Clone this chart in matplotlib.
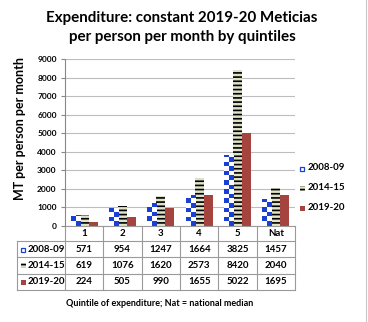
import numpy as np
import matplotlib
matplotlib.use("Agg")
import matplotlib.pyplot as plt
from matplotlib.colors import ListedColormap
from matplotlib.patches import Rectangle
from matplotlib.transforms import blended_transform_factory

plt.rcParams['font.family'] = ['Lato', 'DejaVu Sans']
plt.rcParams['hatch.linewidth'] = 1.2

categories = ['1', '2', '3', '4', '5', 'Nat']
series_names = ['2008-09', '2014-15', '2019-20']
v2008 = [571, 954, 1247, 1664, 3825, 1457]
v2014 = [619, 1076, 1620, 2573, 8420, 2040]
v2019 = [224, 505, 990, 1655, 5022, 1695]
yticks = [0, 1000, 2000, 3000, 4000, 5000, 6000, 7000, 8000, 9000]

BLUE = '#1a3fd6'
BEIGE = '#dfe2c6'
RED = '#a5443f'
GRID = '#bdbdbd'

W, H = 368, 322
fig = plt.figure(figsize=(W / 100, H / 100), dpi=100)
ax = fig.add_axes([65 / W, 1 - 226 / H, 230 / W, 167 / H])

x = np.arange(len(categories))
w = 0.235
b1 = ax.bar(x - w, v2008, w, color='white', edgecolor='none', zorder=2)
b2 = ax.bar(x, v2014, w, color=BEIGE, edgecolor='black', linewidth=0, hatch='----', zorder=2)
b3 = ax.bar(x + w, v2019, w, color=RED, edgecolor='none', zorder=2)

# checkerboard fill for 2008-09 bars
cell_h = 9000 / 167 * 4.6
cmap = ListedColormap(['white', BLUE])
for p in b1:
    x0 = p.get_x()
    x1 = x0 + p.get_width()
    h = p.get_height()
    nr = int(np.ceil(h / cell_h))
    arr = (np.add.outer(np.arange(nr), np.arange(2)) % 2)[::-1]
    im = ax.imshow(arr, extent=(x0, x1, 0, nr * cell_h), cmap=cmap,
                   interpolation='nearest', aspect='auto', zorder=2, vmin=0, vmax=1)
    im.set_clip_path(p)
ax.set_xlim(-0.5, len(categories) - 0.5)
ax.set_ylim(0, 9000)
ax.set_aspect('auto')

ax.set_yticks(yticks)
ax.set_yticklabels([str(t) for t in yticks], fontsize=6, fontweight='bold')
ax.tick_params(axis='y', length=3, color='#888888', pad=3)
ax.set_xticks([])
ax.grid(axis='y', color=GRID, linewidth=0.8, zorder=0)
ax.set_axisbelow(True)
for s in ['top', 'right', 'bottom']:
    ax.spines[s].set_visible(False)
ax.spines['left'].set_color('#888888')
ax.spines['left'].set_linewidth(0.8)

# titles and labels
fig.text(182 / W, 1 - 18 / H, 'Expenditure: constant 2019-20 Meticias',
         ha='center', va='center', fontsize=10.9, fontweight='bold')
fig.text(182 / W, 1 - 37 / H, 'per person per month by quintiles',
         ha='center', va='center', fontsize=10.9, fontweight='bold')
fig.text(20 / W, 1 - 128 / H, 'MT per person per month', rotation=90,
         ha='center', va='center', fontsize=9, fontweight='bold')

# data table below the axes
tr = blended_transform_factory(ax.transData, fig.transFigure)
def fy(py):
    return 1 - py / H
LC = '#9a9a9a'
n = len(categories)
left_x = -0.5 - 48 / (230 / n)
row_lines = [241, 257, 274, 290]
ax.plot([-0.5, n - 0.5], [fy(226), fy(226)], transform=tr, color=LC, lw=0.8, clip_on=False)
for yy in row_lines:
    ax.plot([left_x, n - 0.5], [fy(yy), fy(yy)], transform=tr,
            color=LC, lw=0.8, clip_on=False)
for k in range(n + 1):
    ax.plot([k - 0.5, k - 0.5], [fy(226), fy(290)], transform=tr, color=LC, lw=0.8, clip_on=False)
ax.plot([left_x, left_x], [fy(241), fy(290)], transform=tr, color=LC, lw=0.8, clip_on=False)

for i, c in enumerate(categories):
    ax.text(i, fy(233.5), c, transform=tr, ha='center', va='center',
            fontsize=7, fontweight='bold')
rows = [v2008, v2014, v2019]
for r, (name, vals) in enumerate(zip(series_names, rows)):
    yc = (row_lines[r] + row_lines[r + 1]) / 2
    for i, v in enumerate(vals):
        ax.text(i, fy(yc), str(v), transform=tr, ha='center', va='center',
                fontsize=7, fontweight='bold')
    fig.text(28 / W, fy(yc), name, ha='left', va='center', fontsize=7, fontweight='bold')

# row-label / legend markers
def marker(xp, yp, idx):
    if idx == 0:
        m = Rectangle((xp, yp), 4 / W, 4 / H, facecolor='white', edgecolor=BLUE,
                      lw=0.9, transform=fig.transFigure)
    elif idx == 1:
        m = Rectangle((xp, yp), 5 / W, 5 / H, facecolor=BEIGE, edgecolor='black',
                      lw=0, hatch='----', transform=fig.transFigure)
    else:
        m = Rectangle((xp, yp), 5 / W, 5 / H, facecolor=RED, edgecolor='none',
                      transform=fig.transFigure)
    fig.add_artist(m)

for r in range(3):
    yc = (row_lines[r] + row_lines[r + 1]) / 2
    marker(21 / W, fy(yc + 2.5), r)

# legend
leg_y = [168, 188, 208]
for r, name in enumerate(series_names):
    marker(300 / W, fy(leg_y[r] + 2.5), r)
    fig.text(308 / W, fy(leg_y[r]), name, ha='left', va='center', fontsize=7, fontweight='bold')

fig.text(160 / W, fy(303), 'Quintile of expenditure; Nat = national median',
         ha='center', va='center', fontsize=6.5, fontweight='bold')

fig.add_artist(plt.Line2D([366 / W, 366 / W], [0, 1], transform=fig.transFigure,
                          color='#c8c8c8', lw=0.8))

fig.savefig('out.png', dpi=100)
